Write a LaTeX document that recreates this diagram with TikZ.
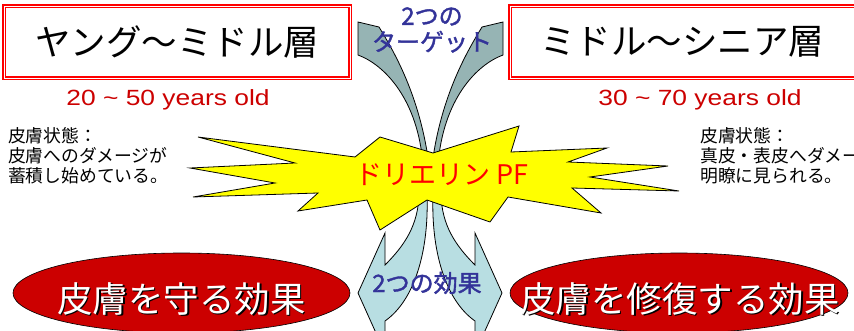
\documentclass[tikz,border=0pt]{standalone}
\usepackage{fontspec}
\setmainfont{Liberation Sans}
\newfontfamily\jpfont{Noto Sans CJK JP}
\newfontfamily\jpheavy[FakeBold=1.6]{Noto Sans CJK JP}
\usepackage{graphicx}
\usepackage{tikz}
\usetikzlibrary{shapes.geometric}
\definecolor{framered}{RGB}{255,0,0}
\definecolor{agered}{RGB}{204,0,0}
\definecolor{targetblue}{RGB}{51,51,153}
\definecolor{burstyellow}{RGB}{255,255,0}
\definecolor{upgray}{RGB}{150,180,180}
\definecolor{downblue}{RGB}{184,222,226}
\newcommand{\bigfont}{\jpfont\fontsize{35.5}{40}\selectfont}
\tikzset{
  x=1pt, y=-1pt,
  frame/.style={draw=framered,line width=1.1pt,double=white,double distance=0.9pt},
  title/.style={font=\bigfont,inner sep=0},
  age/.style={font=\fontsize{22}{26}\selectfont,text=agered,inner sep=0,anchor=base},
  note/.style={font=\jpfont\fontsize{17.8}{20.3}\selectfont,align=left,inner sep=0,anchor=north west},
  target/.style={font=\jpheavy\fontsize{24}{26}\selectfont,text=targetblue,align=center,inner sep=0},
  burst/.style={draw,fill=burstyellow,line width=0.8pt,line join=miter},
  upband/.style={draw,fill=upgray,line width=0.8pt},
  downband/.style={draw,fill=downblue,line width=0.8pt},
  effect/.style={draw,fill=agered,shape=ellipse,line width=0.6pt,inner sep=0},
  effecttext/.style={font=\bigfont,text=white,inner sep=0},
  shadowtext/.style={font=\bigfont,text=black,inner sep=0}
}
\begin{document}
\begin{tikzpicture}
  \useasboundingbox (0,0) rectangle (854,331);
  \clip (0,0) rectangle (854,331);

  % arrows behind the burst
  \path [upband] (358,22) -- (379,27) .. controls (393,50) and (420,95) .. (429,165)
    -- (423,165) .. controls (418,100) and (385,65) .. (358,55) -- cycle;
  \begin{scope}[shift={(861,0)},xscale=-1]
    \path [upband] (358,22) -- (379,27) .. controls (393,50) and (420,95) .. (429,165)
      -- (423,165) .. controls (418,100) and (385,65) .. (358,55) -- cycle;
  \end{scope}
  \path [downband] (358,293) -- (385,233) -- (385,265) .. controls (405,245) and (418,225) .. (419,195)
    -- (427,195) .. controls (429,250) and (415,300) .. (385,321) -- (385,353) -- cycle;
  \begin{scope}[shift={(860,0)},xscale=-1]
    \path [downband] (358,293) -- (385,233) -- (385,265) .. controls (405,245) and (418,225) .. (419,195)
      -- (427,195) .. controls (429,250) and (415,300) .. (385,321) -- (385,353) -- cycle;
  \end{scope}

  \path [burst] (190,168) -- (295,163) -- (198,137) -- (355,157) -- (380,137) -- (433,153)
    -- (519,126) -- (511,152) -- (607,148) -- (568,162) -- (668,166) -- (590,177)
    -- (679,191) -- (572,188) -- (601,213) -- (508,197) -- (490,222) -- (427,200)
    -- (380,230) -- (367,200) -- (298,211) -- (318,193) -- (193,197) -- (275,183) -- cycle;

  \path [frame] (4,6) rectangle (350,78);
  \path [frame] (510,6) rectangle (858,78);
  \node (young) [title] at (177,42) {ヤング～ミドル層};
  \node (senior) [title] at (682,42) {ミドル～シニア層};
  \node (youngage) [age] at (168,106) {\scalebox{1.2}[1]{20 \textasciitilde{} 50 years old}};
  \node (seniorage) [age] at (700,106) {\scalebox{1.2}[1]{30 \textasciitilde{} 70 years old}};
  \node (youngnote) [note] at (8,127) {皮膚状態：\\皮膚へのダメージが\\蓄積し始めている。};
  \node (seniornote) [note] at (700,127) {皮膚状態：\\真皮・表皮へダメー\\明瞭に見られる。};

  \node (targets) [target] at (432,30) {2つの\\ターゲット};
  \node (product) [font=\jpfont\fontsize{27}{30}\selectfont,text=framered,inner sep=0] at (442,175) {ドリエリン PF};
  \node (effects) [target] at (427,283) {2つの効果};

  \node (protect) [effect,minimum width=337pt,minimum height=80pt] at (181.5,293) {};
  \node (protectshadow) [shadowtext] at (183,300.5) {皮膚を守る効果};
  \node (protecttext) [effecttext] at (181.5,299) {皮膚を守る効果};
  \node (repair) [effect,minimum width=338pt,minimum height=80pt] at (679,293) {};
  \node (repairshadow) [shadowtext] at (681.5,300.5) {皮膚を修復する効果};
  \node (repairtext) [effecttext] at (680,299) {皮膚を修復する効果};
\end{tikzpicture}
\end{document}
